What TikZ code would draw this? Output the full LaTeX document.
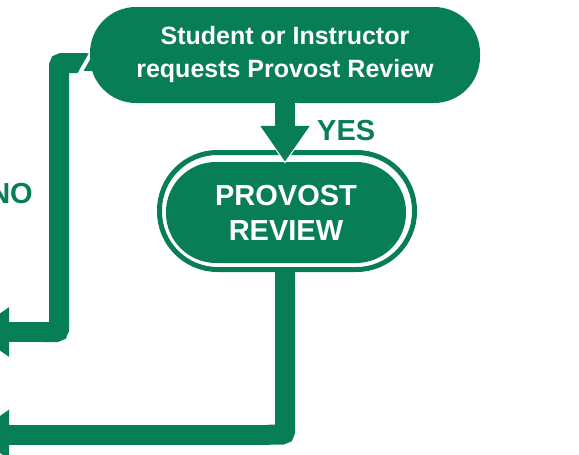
\documentclass[tikz,border=0pt]{standalone}
\usepackage{fontspec}
\setmainfont{Liberation Sans}
\usetikzlibrary{arrows.meta,calc}
\definecolor{pgreen}{HTML}{087E56}
\pgfdeclarelayer{bg}
\pgfdeclarelayer{mid}
\pgfsetlayers{bg,mid,main}
\tikzset{
  conn/.style={draw=pgreen, line width=20pt},
  cased/.style={rounded corners=3pt, line cap=round, preaction={draw=white, line width=30pt}},
  arr/.style={-{Triangle[length=36pt,width=47pt]}},
  bubble/.style={rectangle, rounded corners=46pt, fill=pgreen, text=white, inner sep=0pt,
    minimum width=390pt, minimum height=96pt, align=center,
    font=\bfseries\fontsize{25}{33}\selectfont},
  ringbox/.style={rectangle, rounded corners=58pt, draw=pgreen, line width=5pt, fill=white,
    inner sep=0pt, minimum width=255pt, minimum height=117pt},
  innerbox/.style={rectangle, rounded corners=50pt, fill=pgreen, text=white, inner sep=0pt,
    minimum width=240pt, minimum height=101pt, align=center,
    font=\bfseries\fontsize{29}{35}\selectfont},
  lbl/.style={text=pgreen, inner sep=0pt, font=\bfseries\fontsize{29}{35}\selectfont}
}
\begin{document}
\begin{tikzpicture}[x=1pt,y=-1pt]
\useasboundingbox (0,0) rectangle (579,455);
\clip (0,0) rectangle (579,455);
% nodes
\node[bubble] (bub) at (285,55) {Student or Instructor\\requests Provost Review};
\node[ringbox] (prout) at (287,211) {};
\node[innerbox] (pr) at (286,212.5) {PROVOST\\REVIEW};
\node[lbl, anchor=base west] (yes) at (317,140) {YES};
\node[lbl, anchor=base east] (no) at (33,203) {NO};
% coordinates for the free ends
\coordinate (nocorner) at (59,332);
\coordinate (notip) at (-27,332);
\coordinate (bcorner) at (285,434.5);
\coordinate (btip) at (-27,434.5);
% NO connector and bottom connector
\begin{pgfonlayer}{bg}
  \draw[conn, arr] (nocorner) -- (notip);
  \draw[conn, cased] ($(bub.west)+(-4,8)$) -| (nocorner) -- ++(-17,0);
  \draw[conn, arr] (bcorner) -- (btip);
  \draw[conn, cased] (bcorner |- prout.south) -- (bcorner) -- ++(-15,0);
\end{pgfonlayer}
\begin{pgfonlayer}{mid}
  \fill[pgreen, draw=white, line width=4pt] (80,73) -- (92,52) -- (100,73) -- cycle;
\end{pgfonlayer}
% YES connector
\draw[conn, arr, preaction={draw=white, line width=26pt, -{Triangle[length=44pt,width=58pt]}, shorten >=-2pt}] (bub.south -| bcorner) -- (bcorner |- pr.north);
\end{tikzpicture}
\end{document}
